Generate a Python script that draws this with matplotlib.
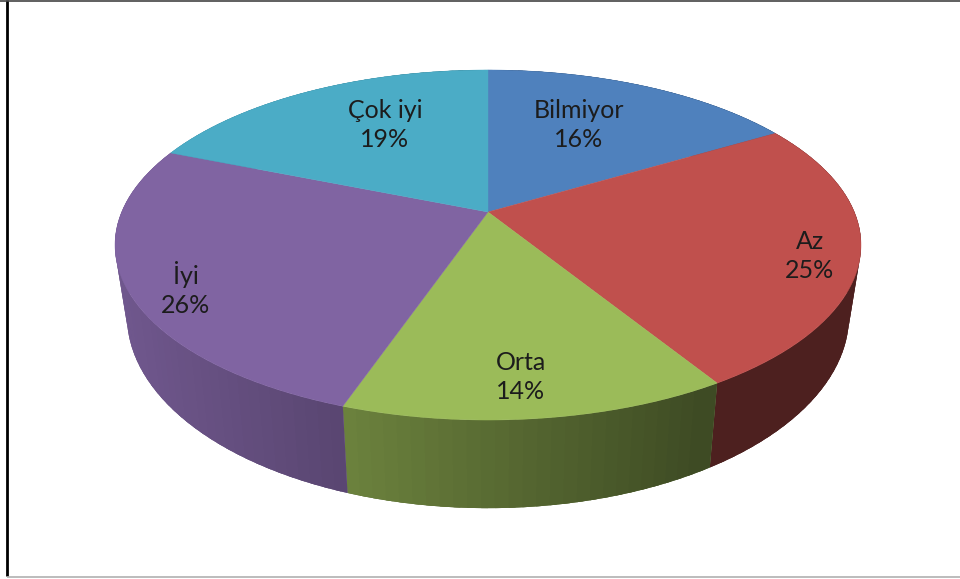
import numpy as np
import matplotlib
matplotlib.use('Agg')
import matplotlib.pyplot as plt
from matplotlib.patches import Polygon

labels = ['Bilmiyor', 'Az', 'Orta', 'İyi', 'Çok iyi']
# slice sizes, the printed percent is the rounded value
values = [16.47, 24.73, 14.08, 25.83, 18.89]
colors = ['#4F81BD', '#C0504D', '#9BBB59', '#8064A2', '#4BACC6']

# text anchors in picture pixels (layout only)
label_xy = [(579, 125), (810, 256), (521, 377), (186, 289), (385, 125)]

# perspective of the disc, fitted to the picture
cx, cy = 488, 212
rx, ry = 366.3, 168.8
k = 0.1886
# lower rim of the side wall
side_sx = 0.968
side_sy = 1.1
side_cy = 279.3


def project(theta):
    # theta clockwise from 12 o'clock
    x = np.sin(theta)
    y = np.cos(theta)
    d = 1 + k * y
    return cx + rx * x / d, cy - ry * y / d


def lower(px, py):
    return cx + side_sx * (px - cx), side_cy + side_sy * (py - cy)


def side_shade(px):
    return np.interp(px, [127, 345, 700, 848], [0.875, 0.70, 0.40, 0.40])


fig = plt.figure(figsize=(9.6, 5.79), dpi=100)
ax = fig.add_axes([0, 0, 1, 1])
ax.set_xlim(0, 960)
ax.set_ylim(579, 0)
ax.axis('off')

edges = np.cumsum([0] + values) / sum(values) * 2 * np.pi

# side wall first, the top covers the hidden part
for i in range(len(values)):
    n = max(int(values[i] * 2), 2)
    t = np.linspace(edges[i], edges[i + 1], n * 8 + 1)
    px, py = project(t)
    bx, by = lower(px, py)
    base = np.array(matplotlib.colors.to_rgb(colors[i]))

    # whole slice underneath so no seam shows between bands
    outline = np.c_[np.r_[px, bx[::-1]], np.r_[py, by[::-1]]]
    ax.add_patch(Polygon(outline, closed=True, fc=base * side_shade(bx.mean()), ec='none'))

    # bands overlap the next one, drawn in order
    order = range(n) if px[-1] > px[0] else range(n - 1, -1, -1)
    for j in order:
        a = j * 8
        b = a + 8
        if px[-1] > px[0]:
            b = min(b + 4, len(t) - 1)
        else:
            a = max(a - 4, 0)
        band = np.c_[np.r_[px[a:b + 1], bx[a:b + 1][::-1]], np.r_[py[a:b + 1], by[a:b + 1][::-1]]]
        ax.add_patch(Polygon(band, closed=True, fc=base * side_shade(bx[a:b + 1].mean()), ec='none'))

# top of the pie
for i in range(len(values)):
    t = np.linspace(edges[i], edges[i + 1], 200)
    px, py = project(t)
    ax.fill(np.r_[cx, px], np.r_[cy, py], color=colors[i], lw=0.3)

for i in range(len(values)):
    ax.text(label_xy[i][0], label_xy[i][1], '%s\n%d%%' % (labels[i], round(values[i])),
            ha='center', va='center', ma='center', family='Lato', fontsize=18,
            linespacing=1.33, color='#1c1c1c')

# frame of the pasted chart
ax.plot([7.2, 7.2], [0, 576], color='black', lw=2, solid_capstyle='butt')
ax.plot([0, 960], [0.7, 0.7], color='#444444', lw=1.2, solid_capstyle='butt')
ax.plot([7, 960], [576.5, 576.5], color='#aaaaaa', lw=1.1, solid_capstyle='butt')

fig.savefig('out.png', dpi=100, facecolor='white')
